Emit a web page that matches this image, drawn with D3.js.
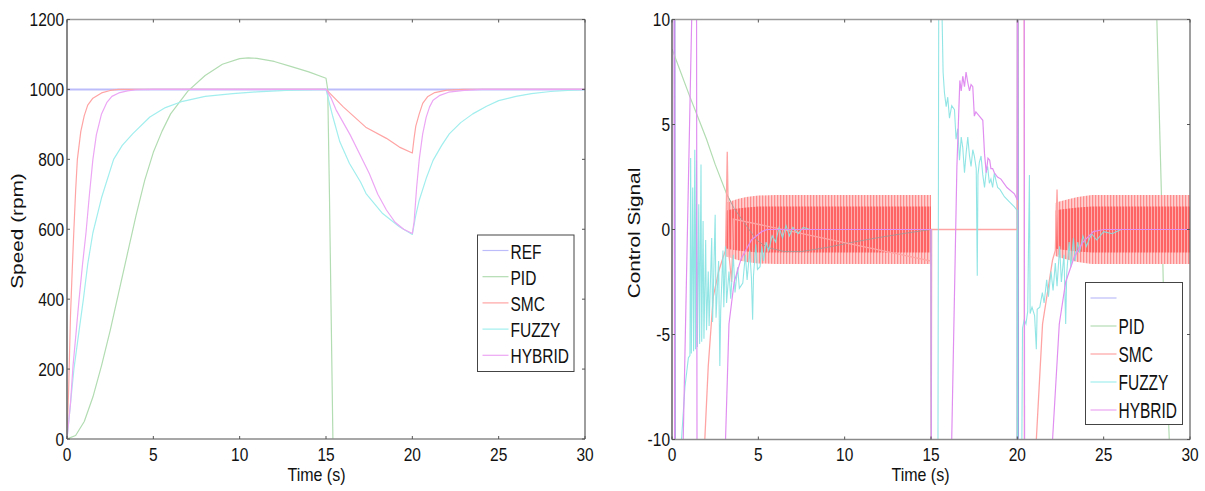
<!DOCTYPE html>
<html><head><meta charset="utf-8">
<script src="https://cdn.jsdelivr.net/npm/d3@7"></script>
<style>
html,body{margin:0;padding:0;background:#fff;}
svg{display:block;}
text{font-family:"Liberation Sans",Arial,Helvetica,sans-serif;fill:#111;}
</style></head>
<body>
<svg id="chart" width="1205" height="491"></svg>
<script>
// ---------------- DATA ----------------
const timeTicks = [0, 5, 10, 15, 20, 25, 30];
const speedTicks = [0, 200, 400, 600, 800, 1000, 1200];
const controlTicks = [-10, -5, 0, 5, 10];
const leftLegendNames = ["REF", "PID", "SMC", "FUZZY", "HYBRID"];
const rightLegendNames = ["", "PID", "SMC", "FUZZY", "HYBRID"];
const seriesColors = ["#bcbcfb", "#b2dcb2", "#ffa4a4", "#a2eeee", "#eca6f4"];

// Speed (rpm) vs time (s)
const speedREF = [[0, 1000], [30, 1000]];
const speedPID = [[0,0],[0.5,10],[1,50],[1.5,120],[2,210],[2.5,310],[3,420],[3.5,530],[4,640],[4.5,740],[5,820],[5.5,880],[6,930],[7,995],[8,1040],[9,1072],[10,1088],[10.5,1090],[11,1089],[12,1080],[13,1065],[14,1050],[15,1032],[15.1,1000],[15.2,700],[15.3,350],[15.4,0],[15.5,-100]];
const speedSMC = [[0,0],[0.1,150],[0.2,350],[0.3,480],[0.4,600],[0.5,710],[0.6,800],[0.8,880],[1,925],[1.2,955],[1.5,975],[2,990],[2.5,997],[3,1000],[15,1000],[16,950],[17.3,892],[18.5,860],[19.25,835],[20,818],[20.1,860],[20.2,895],[20.4,930],[20.6,960],[20.9,980],[21.3,991],[22,998],[23,1000],[30,1000]];
const speedFUZZY = [[0,0],[0.2,100],[0.4,200],[0.7,310],[0.95,400],[1.2,500],[1.5,590],[2,690],[2.7,800],[3.2,840],[3.8,873],[4.8,921],[5.7,948],[6.7,966],[8,980],[9.6,988],[11,993],[12.7,997],[15,1000],[15.2,960],[15.4,921],[15.8,850],[16.36,788],[17,735],[17.32,702],[18.28,645],[19.25,607],[20,585],[20.2,640],[20.4,683],[20.8,745],[21.2,797],[21.7,840],[22.14,873],[22.8,905],[23.5,930],[24.3,952],[25,968],[26,980],[26.9,988],[28,994],[29,997],[30,999]];
const speedHYBRID = [[0,0],[0.2,100],[0.35,210],[0.5,290],[0.7,400],[0.9,500],[1.1,590],[1.3,700],[1.5,800],[1.7,870],[2,930],[2.3,962],[2.6,980],[3,990],[3.5,996],[4,999],[5,1000],[15,1000],[15.3,975],[15.6,940],[16,905],[16.4,870],[17,810],[17.5,760],[18,700],[18.5,655],[19,620],[19.5,600],[20,588],[20.1,620],[20.25,720],[20.4,800],[20.6,873],[20.8,920],[21,950],[21.2,969],[21.6,983],[22.1,992],[23,997],[24,1000],[30,1000]];

// Control signal vs time (s)
const ctrlREF = [[0,12],[0.15,12],[0.17,-12],[20,-12],[20.01,12],[20.03,12],[20.04,-12],[30,-12]];
const ctrlPID = [[0,8.6],[0.5,7.5],[1,6.4],[1.43,5.5],[2,4.3],[2.5,3.1],[3.16,1.7],[3.6,1.0],[4.2,0.3],[4.9,-0.5],[5.5,-0.85],[6.5,-1.05],[7.5,-1.05],[9,-0.85],[10.5,-0.6],[12,-0.38],[13.5,-0.18],[15,0],[15.02,-12],[20,-12],[20.02,12],[28,12],[28.08,10],[28.35,1.5],[28.45,-2.5],[28.8,-10],[28.85,-12],[30,-12]];
const ctrlSMC = [[0,-12],[1.85,-12],[1.9,-10],[2.1,-6.5],[2.39,-3.2],[2.7,-2.0],[2.97,-1.3],[3.1,-1.0],[3.2,3.7],[3.3,-1.2],[3.45,-2.5],[3.55,0.5],[15,-1.5],[15.01,-12],[15.04,0],[20,0],[20.01,12],[20.4,12],[20.41,-12],[21.05,-12],[21.1,-10],[21.46,-4.5],[22.04,-1.45],[22.2,-1.0],[22.3,1.9],[22.4,-1.2]];
// SMC chattering band: [time, outer amplitude, inner amplitude]
const smcChatter1 = [[3.15,1.3,0.9],[3.4,1.35,0.95],[3.8,1.45,1.0],[4.3,1.55,1.05],[5,1.62,1.1],[6,1.64,1.1],[15,1.64,1.1]];
const smcChatter2 = [[22.2,1.26,0.9],[22.5,1.35,0.95],[23,1.45,1.0],[23.5,1.55,1.05],[24.3,1.64,1.1],[30,1.64,1.1]];
const ctrlFUZZY = [[0,-12],[0.5,-12],[0.55,-10],[0.75,-7.5],[0.95,-6.1],[1.04,-6.0],[1.08,3.4],[1.12,-5.9],[1.2,2.0],[1.25,-5.8],[1.32,3.8],[1.36,-5.7],[1.42,3.3],[1.47,-5.6],[1.55,1.2],[1.6,-5.45],[1.68,3.1],[1.72,-5.35],[1.8,0.4],[1.85,-5.2],[1.95,-0.5],[2.0,-4.8],[2.1,-2.0],[2.15,-4.6],[2.3,-0.4],[2.35,-4.4],[2.5,0.7],[2.55,-4.2],[2.7,-1.5],[2.77,-6.5],[2.82,-3.9],[2.95,-1.0],[3.0,-3.7],[3.1,-0.8],[3.16,-3.5],[3.3,-2.0],[3.4,-3.3],[3.55,-1.2],[3.65,-3.0],[3.8,-1.8],[3.9,-2.8],[4.1,-2.55],[4.25,-1.2],[4.35,-2.4],[4.5,-1.0],[4.6,-2.3],[4.67,-4.3],[4.72,-2.2],[4.85,-0.7],[4.95,-1.9],[5.1,-1.77],[5.2,-0.8],[5.3,-1.5],[5.45,-0.6],[5.6,-1.0],[5.8,-0.3],[6.0,-0.6],[6.2,0.1],[6.4,-0.4],[6.6,0.2],[6.8,-0.3],[7.0,0.1],[7.3,-0.2],[7.6,0.1],[8,0],[15,0],[15.02,-12],[15.4,-12],[15.45,12],[15.6,12],[15.7,7.5],[15.78,6.5],[15.88,5.85],[15.97,6.3],[16.07,5.3],[16.2,5.9],[16.36,5.7],[16.45,4.3],[16.55,4.8],[16.65,3.3],[16.75,4.4],[16.84,3.9],[16.94,2.7],[17.03,3.6],[17.13,4.4],[17.23,3.5],[17.32,3.0],[17.42,3.8],[17.51,3.5],[17.62,2.9],[17.68,-2.2],[17.72,2.6],[17.8,3.2],[17.9,3.5],[18.0,2.6],[18.1,2.0],[18.2,2.8],[18.28,3.0],[18.38,2.2],[18.47,2.4],[18.57,2.0],[18.67,2.7],[18.77,2.3],[18.86,2.0],[19.0,1.9],[19.25,1.56],[19.5,1.35],[19.83,1.08],[20,0.9],[20.02,-12],[20.25,-12],[20.3,-4.7],[20.4,-4.3],[20.5,-4.5],[20.6,-3.9],[20.7,2.6],[20.74,-4.0],[20.85,-3.7],[21.0,-4.1],[21.1,-5.7],[21.15,-3.8],[21.3,-3.7],[21.45,-3.0],[21.55,-3.5],[21.7,-2.4],[21.8,-3.2],[21.95,-2.0],[22.07,-2.9],[22.2,-1.6],[22.3,-2.7],[22.45,-0.8],[22.55,-2.5],[22.7,-1.2],[22.8,-4.5],[22.86,-2.1],[23.0,-0.6],[23.1,-1.8],[23.25,-0.4],[23.35,-1.5],[23.5,-0.6],[23.6,-1.1],[23.8,-0.3],[24.0,-0.8],[24.3,-0.2],[24.6,-0.5],[25,-0.1],[25.5,-0.2],[26,0],[30,0]];
const ctrlHYBRID = [[0,12],[0.12,12],[0.15,-12],[0.62,-12],[0.65,-10],[1.14,10],[1.16,12],[1.42,12],[1.45,-12],[3.05,-12],[3.1,-10],[3.3,-4.5],[3.6,-2.5],[4.0,-1.4],[4.6,-0.5],[5.2,-0.1],[5.5,0],[15,0],[15.02,-12],[16.15,-12],[16.2,-10],[16.5,3],[16.67,7.1],[16.75,6.6],[16.84,7.3],[16.94,6.8],[17.03,7.5],[17.13,7.0],[17.23,6.6],[17.32,6.9],[17.42,6.8],[17.51,5.4],[17.6,5.6],[17.8,5.4],[18.0,5.2],[18.1,3.6],[18.2,2.7],[18.3,3.4],[18.4,3.3],[18.47,2.9],[18.57,2.9],[18.67,2.7],[18.85,2.5],[19.05,2.4],[19.4,2.0],[19.83,1.7],[20,1.4],[20.02,12],[20.4,12],[20.42,-12],[22.0,-12],[22.04,-10],[22.43,-4.5],[22.8,-2.5],[23.3,-1.3],[23.8,-0.6],[24.4,-0.1],[25,0],[30,0]];

// ---------------- DRAWING ----------------
const svg = d3.select("#chart");
const defs = svg.append("defs");

const pOuter = defs.append("pattern").attr("id","stripeOuter").attr("patternUnits","userSpaceOnUse").attr("width",3).attr("height",4);
pOuter.append("rect").attr("width",3).attr("height",4).attr("fill","#ffd2d2");
pOuter.append("rect").attr("width",1.3).attr("height",4).attr("fill","#ff8c8c");
const pInner = defs.append("pattern").attr("id","stripeInner").attr("patternUnits","userSpaceOnUse").attr("width",3).attr("height",4);
pInner.append("rect").attr("width",3).attr("height",4).attr("fill","#ff6464");
pInner.append("rect").attr("x",2).attr("width",0.9).attr("height",4).attr("fill","#ffb4b4");

function scaledText(g, x, y, str, opts) {
  return g.append("text")
    .attr("transform", `translate(${x},${y}) scale(1,${opts.sy || 1.25})${opts.rot ? " rotate(-90)" : ""}`)
    .attr("font-size", opts.size || 15.5)
    .attr("text-anchor", opts.anchor || "middle")
    .text(str);
}

function drawPanel(cfg) {
  const {x, y, xTicks, yTicks, id} = cfg;
  const g = svg.append("g");
  const [x0, x1] = x.range();
  const [y0, y1] = y.range();
  defs.append("clipPath").attr("id", id).append("rect")
    .attr("x", x0).attr("y", y1).attr("width", x1 - x0).attr("height", y0 - y1);

  const plot = g.append("g").attr("clip-path", `url(#${id})`);
  cfg.draw(plot);

  // frame
  g.append("line").attr("x1",x0).attr("x2",x1).attr("y1",y1).attr("y2",y1).attr("stroke","#9a9a9a").attr("stroke-width",1.6);
  g.append("line").attr("x1",x0).attr("x2",x1).attr("y1",y0).attr("y2",y0).attr("stroke","#8a8a8a").attr("stroke-width",1.6);
  g.append("line").attr("x1",x0).attr("x2",x0).attr("y1",y1).attr("y2",y0).attr("stroke","#6a6a6a").attr("stroke-width",1.6);
  g.append("line").attr("x1",x1).attr("x2",x1).attr("y1",y1).attr("y2",y0).attr("stroke","#6a6a6a").attr("stroke-width",1.3);

  // ticks
  const tk = 3;
  xTicks.forEach(v => {
    const px = x(v);
    g.append("line").attr("x1",px).attr("x2",px).attr("y1",y0).attr("y2",y0-tk).attr("stroke","#555");
    g.append("line").attr("x1",px).attr("x2",px).attr("y1",y1).attr("y2",y1+tk).attr("stroke","#555");
    scaledText(g, px, 460.5, String(v), {size:15.5, sy:1.22});
  });
  yTicks.forEach(v => {
    const py = y(v);
    g.append("line").attr("x1",x0).attr("x2",x0+tk).attr("y1",py).attr("y2",py).attr("stroke","#555");
    g.append("line").attr("x1",x1).attr("x2",x1-tk).attr("y1",py).attr("y2",py).attr("stroke","#555");
    scaledText(g, x0 - cfg.labelGap, py + 6.5, String(v), {size:15.5, sy:1.22, anchor:"end"});
  });

  // titles
  scaledText(g, cfg.xTitlePos[0], cfg.xTitlePos[1], "Time (s)", {size:16, sy:1.2});
  scaledText(g, cfg.yTitlePos[0], cfg.yTitlePos[1], cfg.yTitle, {size:16, sy:1.3, rot:true});

  // legend
  const L = cfg.legend;
  g.append("rect").attr("x",L.x).attr("y",L.y).attr("width",L.w).attr("height",L.h)
    .attr("fill","#fff").attr("stroke","#444").attr("stroke-width",1);
  L.names.forEach((name, i) => {
    const ly = L.firstY + i * L.step;
    g.append("line").attr("x1",L.x+5).attr("x2",L.x+31).attr("y1",ly).attr("y2",ly)
      .attr("stroke", seriesColors[i]).attr("stroke-width",1.2);
    if (name) scaledText(g, L.x+33, ly + 8, name, {size:15.5, sy:L.sy, anchor:"start"});
  });
  return g;
}

function lineGen(x, y) {
  return d3.line().x(d => x(d[0])).y(d => y(d[1]));
}

// ---- Left panel: speed ----
const xL = d3.scaleLinear().domain([0,30]).range([67,585]);
const yL = d3.scaleLinear().domain([0,1200]).range([439,19.5]);
drawPanel({
  id:"clipL", x:xL, y:yL, xTicks:timeTicks, yTicks:speedTicks, labelGap:3,
  xTitlePos:[316.5,480.5], yTitlePos:[23,231], yTitle:"Speed (rpm)",
  legend:{x:477.5,y:235,w:96.5,h:136.5,firstY:250.5,step:26.2,names:leftLegendNames,sy:1.25},
  draw: plot => {
    const lg = lineGen(xL, yL);
    [speedREF, speedPID, speedSMC, speedFUZZY, speedHYBRID].forEach((s, i) => {
      plot.append("path").datum(s).attr("d", lg).attr("fill","none")
        .attr("stroke", seriesColors[i]).attr("stroke-width", i === 0 ? 2 : 1.2)
        .attr("stroke-linejoin","round");
    });
  }
});

// ---- Right panel: control signal ----
const xR = d3.scaleLinear().domain([0,30]).range([672,1190]);
const yR = d3.scaleLinear().domain([-10,10]).range([439.5,19.5]);
drawPanel({
  id:"clipR", x:xR, y:yR, xTicks:timeTicks, yTicks:controlTicks, labelGap:2,
  xTitlePos:[920.5,481], yTitlePos:[640,233], yTitle:"Control Signal",
  legend:{x:1085.5,y:282.5,w:97,h:142,firstY:298,step:28,names:rightLegendNames,sy:1.4},
  draw: plot => {
    const lg = lineGen(xR, yR);
    const outerArea = d3.area().x(d => xR(d[0])).y0(d => yR(-d[1])).y1(d => yR(d[1]));
    const innerArea = d3.area().x(d => xR(d[0])).y0(d => yR(-d[2])).y1(d => yR(d[2]));
    plot.append("path").datum(ctrlREF).attr("d", lg).attr("fill","none").attr("stroke","#8c84d8").attr("stroke-width",1.6);
    plot.append("path").datum(ctrlPID).attr("d", lg).attr("fill","none").attr("stroke",seriesColors[1]).attr("stroke-width",1.2);
    [smcChatter1, smcChatter2].forEach(c => {
      plot.append("path").datum(c).attr("d", outerArea).attr("fill","url(#stripeOuter)");
      plot.append("path").datum(c).attr("d", innerArea).attr("fill","url(#stripeInner)");
    });
    plot.append("path").datum(ctrlPID.filter(d => d[0] > 3 && d[0] <= 15)).attr("d", lg).attr("fill","none").attr("stroke","#9a9a9a").attr("stroke-width",1).attr("opacity",0.8);
    plot.append("path").datum(ctrlSMC).attr("d", lg).attr("fill","none").attr("stroke",seriesColors[2]).attr("stroke-width",1.3);
    plot.append("path").datum(ctrlFUZZY).attr("d", lg).attr("fill","none").attr("stroke","#86e2e2").attr("stroke-width",1.1).attr("opacity",0.9);
    plot.append("path").datum(ctrlHYBRID).attr("d", lg).attr("fill","none").attr("stroke","#e08ef0").attr("stroke-width",1.2);
  }
});
</script>
</body></html>
